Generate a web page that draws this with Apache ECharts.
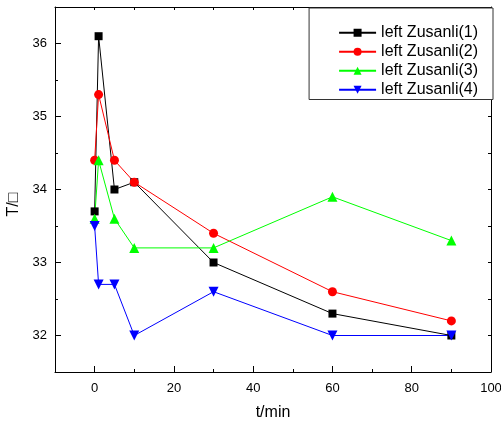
<!DOCTYPE html>
<html>
<head>
<meta charset="utf-8">
<script src="https://cdn.jsdelivr.net/npm/echarts@6/dist/echarts.min.js"></script>
<style>html,body{margin:0;padding:0;background:#fff}#c{width:501px;height:422px}</style>
</head>
<body>
<div id="c"></div>
<script>
var times = [0, 1, 5, 10, 30, 60, 90];
var names = ['left Zusanli(1)', 'left Zusanli(2)', 'left Zusanli(3)', 'left Zusanli(4)'];
var s1 = [33.7, 36.1, 34.0, 34.1, 33.0, 32.3, 32.0];
var s2 = [34.4, 35.3, 34.4, 34.1, 33.4, 32.6, 32.2];
var s3 = [33.6, 34.4, 33.6, 33.2, 33.2, 33.9, 33.3];
var s4 = [33.5, 32.7, 32.7, 32.0, 32.6, 32.0, 32.0];
var xMajor = [0, 20, 40, 60, 80, 100];
var xMinor = [-10, 10, 30, 50, 70, 90];
var xAll = [-10, 0, 10, 20, 30, 40, 50, 60, 70, 80, 90, 100];
var yMajor = [32, 33, 34, 35, 36];
var yMinor = [31.5, 32.5, 33.5, 34.5, 35.5, 36.5];
var yAll = [31.5, 32, 32.5, 33, 33.5, 34, 34.5, 35, 35.5, 36, 36.5];

function pairs(v) { return times.map(function (t, i) { return [t, v[i]]; }); }

var font = 'Liberation Sans, Arial, sans-serif';
var lineStyle = { color: '#000', width: 1 };

function hiddenAxis(extra) {
  var a = {
    type: 'value', show: true,
    axisLine: { show: false, onZero: false },
    axisLabel: { show: false },
    splitLine: { show: false },
    axisTick: { show: true, inside: true, length: 3, lineStyle: { color: '#000', width: 1 } }
  };
  for (var k in extra) a[k] = extra[k];
  return a;
}

var chart = echarts.init(document.getElementById('c'), null, { renderer: 'canvas' });
var colors = ['#000000', '#ff0000', '#00ff00', '#0000ff'];
var symbols = ['rect', 'circle', 'triangle', 'triangle'];
var sizes = [8, 9, 10, 10];
var rot = [0, 0, 0, 180];
var data = [s1, s2, s3, s4];

chart.setOption({
  animation: false,
  backgroundColor: '#fff',
  grid: { left: 55, right: 10, top: 7, bottom: 50, containLabel: false, outerBoundsMode: 'none' },
  legend: {
    orient: 'vertical', right: 8, top: 8,
    padding: [16, 15, 1, 29],
    itemGap: 1.5, itemWidth: 37, itemHeight: 10,
    backgroundColor: '#fff', borderColor: '#333', borderWidth: 1,
    textStyle: { fontFamily: font, fontSize: 16, color: '#000', lineHeight: 17.5 },
    data: names
  },
  xAxis: [
    {
      type: 'value', min: -10, max: 100, position: 'bottom',
      name: 't/min', nameLocation: 'middle', nameGap: 33,
      nameTextStyle: { fontFamily: font, fontSize: 16, color: '#000' },
      axisLine: { show: true, onZero: false, lineStyle: lineStyle },
      axisTick: { show: true, inside: true, length: 6, customValues: xMajor, lineStyle: lineStyle },
      axisLabel: { customValues: xMajor, fontFamily: font, fontSize: 13, color: '#000', margin: 10 },
      splitLine: { show: false }
    },
    hiddenAxis({ min: -10, max: 100, position: 'bottom', axisTick: { show: true, inside: true, length: 3, customValues: xMinor, lineStyle: lineStyle } }),
    hiddenAxis({ min: -10, max: 100, position: 'top', axisLine: { show: true, onZero: false, lineStyle: lineStyle }, axisTick: { show: true, inside: true, length: 3, customValues: xAll, lineStyle: lineStyle } })
  ],
  yAxis: [
    {
      type: 'value', min: 31.5, max: 36.5, position: 'left',
      name: 'T/\u25A1', nameLocation: 'middle', nameGap: 28, nameRotate: 90,
      nameTextStyle: { fontFamily: font, fontSize: 16, color: '#000', padding: [0, 30, 0, 0] },
      axisLine: { show: true, onZero: false, lineStyle: lineStyle },
      axisTick: { show: true, inside: true, length: 6, customValues: yMajor, lineStyle: lineStyle },
      axisLabel: { customValues: yMajor, fontFamily: font, fontSize: 13, color: '#000', margin: 8 },
      splitLine: { show: false }
    },
    hiddenAxis({ min: 31.5, max: 36.5, position: 'left', axisTick: { show: true, inside: true, length: 3, customValues: yMinor, lineStyle: lineStyle } }),
    hiddenAxis({ min: 31.5, max: 36.5, position: 'right', axisLine: { show: true, onZero: false, lineStyle: lineStyle }, axisTick: { show: true, inside: true, length: 3, customValues: yAll, lineStyle: lineStyle } })
  ],
  series: data.map(function (d, i) {
    return {
      name: names[i], type: 'line', xAxisIndex: 0, yAxisIndex: 0,
      data: pairs(d),
      symbol: symbols[i], symbolSize: sizes[i], symbolRotate: rot[i],
      showAllSymbol: true,
      lineStyle: { color: colors[i], width: 1 },
      itemStyle: { color: colors[i] }
    };
  })
});
</script>
</body>
</html>
